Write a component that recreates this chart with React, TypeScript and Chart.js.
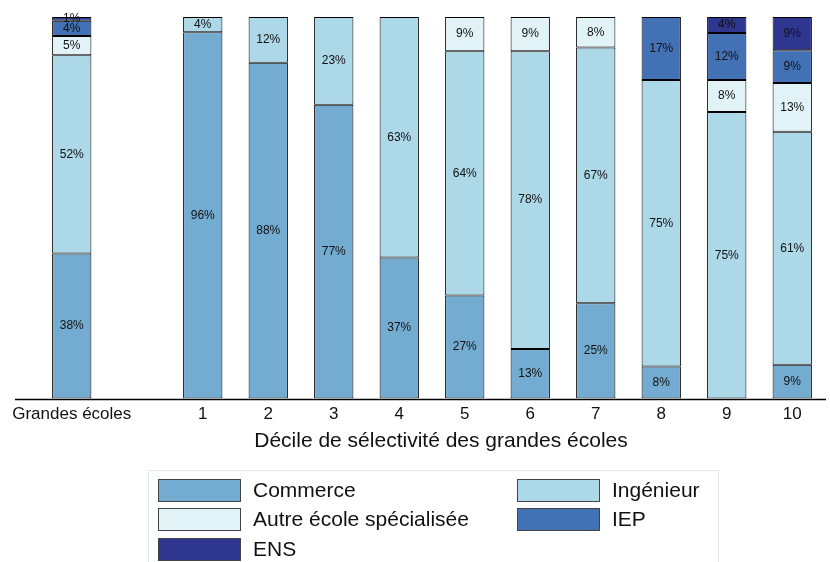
import React, { useEffect, useRef } from "react";
import { Chart, registerables } from "chart.js";

Chart.register(...registerables);

const categories = ["Grandes écoles", "", "1", "2", "3", "4", "5", "6", "7", "8", "9", "10"];
const commerce = [38, null, 96, 88, 77, 37, 27, 13, 25, 8.4, null, 8.9];
const ingenieur = [52, null, 4, 12, 23, 63, 64, 78, 67, 75.1, 75.1, 61];
const autre = [5, null, null, null, null, null, 9, 9, 8, null, 8.4, 12.8];
const iep = [4, null, null, null, null, null, null, null, null, 16.5, 12.3, 8.6];
const ens = [1, null, null, null, null, null, null, null, null, null, 4.2, 8.7];

const seriesNames = ["Commerce", "Ingénieur", "Autre école spécialisée", "IEP", "ENS"];
const seriesColors = ["#74acd1", "#acd8e8", "#e2f3f8", "#4272b5", "#2e3690"];
const xTitle = "Décile de sélectivité des grandes écoles";
const FONT = "'Liberation Sans', Arial, Helvetica, sans-serif";

const labelPlugin = {
  id: "segLabels",
  afterDatasetsDraw(chart: any) {
    const ctx = chart.ctx;
    ctx.save();
    ctx.font = `12px ${FONT}`;
    ctx.fillStyle = "#111";
    ctx.textAlign = "center";
    ctx.textBaseline = "middle";
    chart.data.datasets.forEach((ds: any, i: number) => {
      const meta = chart.getDatasetMeta(i);
      meta.data.forEach((el: any, j: number) => {
        const v = ds.data[j];
        if (v == null || v === 0) return;
        const y = (el.y + el.base) / 2;
        ctx.fillText(`${Math.round(v)}%`, el.x, y);
      });
    });
    ctx.restore();
  },
};

const axisLegendPlugin = {
  id: "axisLegend",
  afterDraw(chart: any) {
    const ctx = chart.ctx;
    const y0 = chart.scales.y.getPixelForValue(0);
    ctx.save();
    ctx.strokeStyle = "#000";
    ctx.lineWidth = 1.5;
    ctx.beginPath();
    ctx.moveTo(15, Math.round(y0) + 0.5);
    ctx.lineTo(826, Math.round(y0) + 0.5);
    ctx.stroke();

    // axis title
    ctx.fillStyle = "#111";
    ctx.font = `21px ${FONT}`;
    ctx.textAlign = "center";
    ctx.textBaseline = "middle";
    ctx.fillText(xTitle, 441, 441);

    // legend frame
    ctx.strokeStyle = "#e3e9eb";
    ctx.lineWidth = 1;
    ctx.strokeRect(148.5, 470.5, 570, 120);

    const items = [
      { i: 0, x: 158, y: 479 },
      { i: 1, x: 517, y: 479 },
      { i: 2, x: 158, y: 508 },
      { i: 3, x: 517, y: 508 },
      { i: 4, x: 158, y: 538 },
    ];
    ctx.font = `21px ${FONT}`;
    ctx.textBaseline = "middle";
    ctx.textAlign = "left";
    items.forEach((it) => {
      ctx.fillStyle = seriesColors[it.i];
      ctx.fillRect(it.x, it.y, 82, 22);
      ctx.strokeStyle = "#444";
      ctx.strokeRect(it.x + 0.5, it.y + 0.5, 82, 22);
      ctx.fillStyle = "#111";
      ctx.fillText(seriesNames[it.i], it.x + 95, it.y + 12);
    });
    ctx.restore();
  },
};

export default function App() {
  const ref = useRef<HTMLCanvasElement>(null);
  useEffect(() => {
    document.body.style.margin = "0";
    const data = [commerce, ingenieur, autre, iep, ens];
    const chart = new Chart(ref.current!, {
      type: "bar",
      data: {
        labels: categories,
        datasets: data.map((d, i) => ({
          label: seriesNames[i],
          data: d as any,
          backgroundColor: seriesColors[i],
          borderColor: "#000",
          borderWidth: 1,
          borderSkipped: false,
          barPercentage: 0.6,
          categoryPercentage: 1,
        })),
      },
      options: {
        animation: false,
        responsive: false,
        layout: { padding: { top: 17, left: 39, right: 5, bottom: 131 } },
        plugins: { legend: { display: false }, tooltip: { enabled: false } },
        scales: {
          x: {
            stacked: true,
            grid: { display: false, drawTicks: false },
            border: { display: false },
            ticks: { color: "#111", font: { family: FONT, size: 17 }, padding: 6, maxRotation: 0, autoSkip: false },
          },
          y: { stacked: true, display: false, min: 0, max: 100 },
        },
      },
      plugins: [labelPlugin, axisLegendPlugin],
    });
    return () => chart.destroy();
  }, []);
  return <canvas ref={ref} width={830} height={562} style={{ display: "block" }} />;
}
